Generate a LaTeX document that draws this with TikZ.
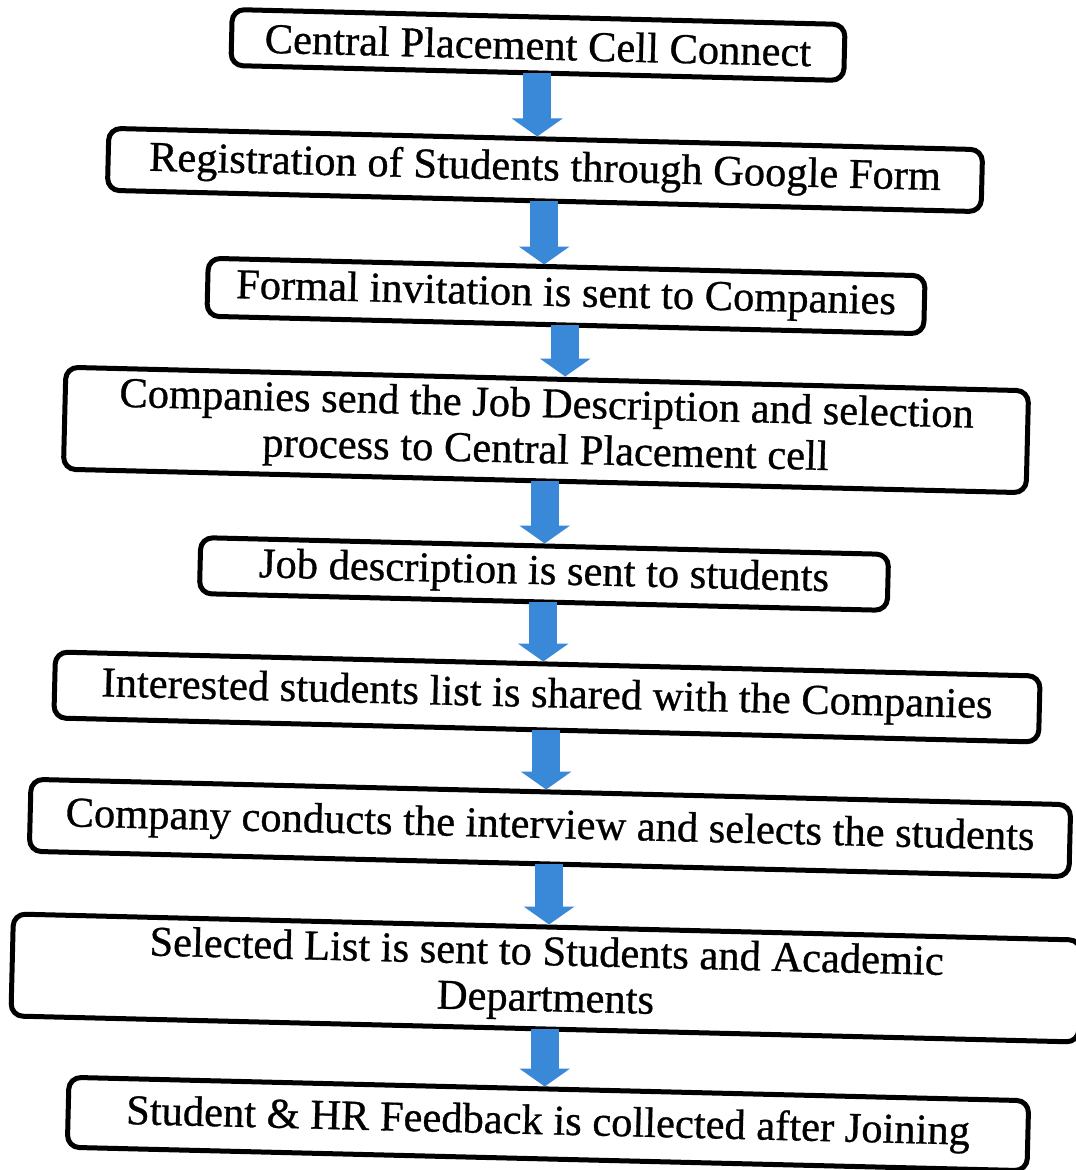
\documentclass[tikz,border=0pt]{standalone}
\usepackage{fontspec}
\setmainfont{Liberation Serif}[FakeBold=0.7]
\usetikzlibrary{arrows.meta}
\definecolor{flowblue}{RGB}{58,136,216}
\tikzset{
  stepbox/.style={draw=black, line width=5pt, rounded corners=12pt, fill=white,
    align=center, inner sep=0pt, rotate=-1.4,
    font=\fontsize{42.5}{46}\selectfont},
  flow/.style={draw=flowblue, line width=28pt,
    -{Triangle[width=50pt,length=18pt]}, shorten <=-2pt}
}
\begin{document}
\begin{tikzpicture}[x=1pt,y=1pt]
\useasboundingbox (0,0) rectangle (1076,1170);
\fill[white] (0,0) rectangle (1076,1170);

% flow steps
\node[stepbox, minimum width=613pt, minimum height=56pt] (s1) at (538,1125) {Central Placement Cell Connect};
\node[stepbox, minimum width=874pt, minimum height=62pt] (s2) at (545,1000) {Registration of Students through Google Form};
\node[stepbox, minimum width=717pt, minimum height=58pt] (s3) at (566,874) {Formal invitation is sent to Companies};
\node[stepbox, minimum width=963pt, minimum height=102pt] (s4) at (546,740) {Companies send the Job Description and selection\\process to Central Placement cell};
\node[stepbox, minimum width=688pt, minimum height=56pt] (s5) at (544,596) {Job description is sent to students};
\node[stepbox, minimum width=985pt, minimum height=66pt] (s6) at (547,473) {Interested students list is shared with the Companies};
\node[stepbox, minimum width=1040pt, minimum height=72pt] (s7) at (550,342) {Company conducts the interview and selects the students};
\node[stepbox, minimum width=1068pt, minimum height=102pt] (s8) at (546,192) {Selected List is sent to Students and Academic\\Departments};
\node[stepbox, minimum width=960pt, minimum height=70pt] (s9) at (548,46) {Student \& HR Feedback is collected after Joining};

% block arrows between consecutive steps
\foreach \a/\b in {s1/s2,s2/s3,s3/s4,s4/s5,s5/s6,s6/s7,s7/s8,s8/s9}{
  \draw[flow] (\a.south) -- (\a.south |- \b.north);
}
\end{tikzpicture}
\end{document}
